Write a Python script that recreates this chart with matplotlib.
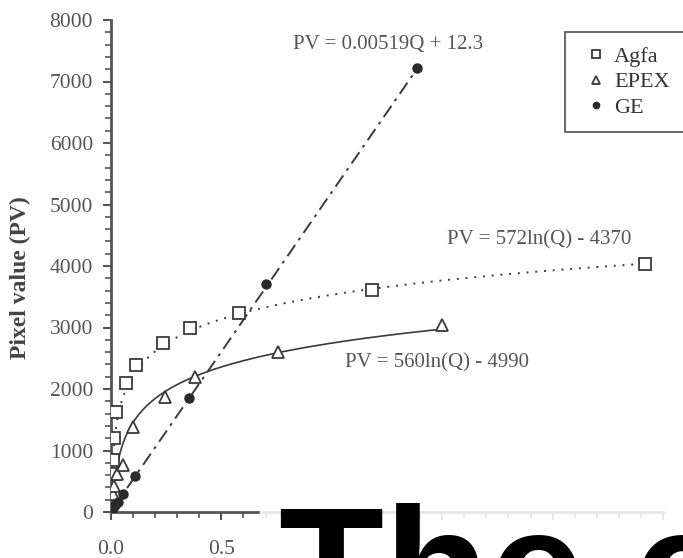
import numpy as np
import matplotlib
matplotlib.use("Agg")
import matplotlib.pyplot as plt
from matplotlib.patches import Rectangle
from matplotlib.ticker import MultipleLocator

plt.rcParams['font.family'] = ['Liberation Serif', 'DejaVu Serif']

# dose (x) and pixel value for each detector
agfa_q = [0.005, 0.008, 0.012, 0.022, 0.07, 0.115, 0.235, 0.36, 0.58, 1.18, 2.42]
agfa_pv = [620, 850, 1210, 1620, 2100, 2390, 2750, 2990, 3230, 3610, 4030]

epex_q = [0.01, 0.015, 0.025, 0.055, 0.10, 0.245, 0.38, 0.755, 1.50]
epex_pv = [300, 420, 620, 760, 1390, 1870, 2190, 2605, 3045]

ge_q = [0.002, 0.01, 0.02, 0.03, 0.055, 0.11, 0.355, 0.70, 1.385]
ge_pv = [25, 70, 120, 170, 300, 580, 1860, 3700, 7220]

# fitted curves, Q in the same units as the labels
ge_fit = "PV = 0.00519Q + 12.3"
agfa_fit = "PV = 572ln(Q) - 4370"
epex_fit = "PV = 560ln(Q) - 4990"
q_scale = 1e6

fig = plt.figure(figsize=(6.83, 5.58), dpi=100)
ax = fig.add_axes([111 / 683, 1 - 512 / 558, 552 / 683, 492 / 558])

ink = '#3a3a3a'

q = np.linspace(min(agfa_q), max(agfa_q), 400)
ax.plot(q, 572 * np.log(q * q_scale) - 4370, color=ink, lw=1.4,
        linestyle=(0, (1, 3.5)))
q = np.linspace(0.025, max(epex_q), 400)
ax.plot(q, 560 * np.log(q * q_scale) - 4990, color=ink, lw=1.2)
q = np.linspace(0, max(ge_q), 50)
ax.plot(q, 0.00519 * q * q_scale + 12.3, color=ink, lw=1.4,
        linestyle=(0, (7, 3, 1.5, 3)))

ax.plot(agfa_q, agfa_pv, 's', ms=8, mfc='white', mec=ink, mew=1.3,
        label='Agfa', zorder=3)
ax.plot(epex_q, epex_pv, '^', ms=9, mfc='white', mec=ink, mew=1.3,
        label='EPEX', zorder=3)
ax.plot(ge_q, ge_pv, 'o', ms=6.5, color='#2a2a2a', label='GE', zorder=4)

ax.set_xlim(0, 2.5)
ax.set_ylim(0, 8000)
ax.xaxis.set_major_locator(MultipleLocator(0.5))
ax.xaxis.set_minor_locator(MultipleLocator(0.1))
ax.yaxis.set_major_locator(MultipleLocator(1000))
ax.yaxis.set_minor_locator(MultipleLocator(200))
ax.xaxis.set_major_formatter(lambda v, p: f"{v:.1f}" if v < 0.6 else "")

for s in ['top', 'right']:
    ax.spines[s].set_visible(False)
for s in ['left', 'bottom']:
    ax.spines[s].set_color('#555555')
    ax.spines[s].set_linewidth(2)
ax.tick_params(which='both', direction='out', color='#555555',
               labelcolor='#555555', labelsize=15.5)
ax.tick_params(which='major', length=6, width=1.5)
ax.tick_params(axis='x', which='major', pad=14)
ax.tick_params(axis='y', which='major', pad=7)
ax.tick_params(which='minor', length=4, width=1.2)

ax.set_ylabel('Pixel value (PV)', fontsize=17, fontweight='bold',
              color='#444444')
ax.yaxis.set_label_coords(-0.145, 0.476)

ax.text(388 / 683, 1 - 45 / 558, ge_fit, transform=fig.transFigure,
        ha='center', va='center', fontsize=15, color='#555555')
ax.text(539 / 683, 1 - 240 / 558, agfa_fit, transform=fig.transFigure,
        ha='center', va='center', fontsize=15, color='#555555')
ax.text(437 / 683, 1 - 363 / 558, epex_fit, transform=fig.transFigure,
        ha='center', va='center', fontsize=15, color='#555555')

leg = fig.legend(loc='upper left', bbox_to_anchor=(565 / 683, 1 - 32 / 558),
                 frameon=True, fancybox=False, fontsize=16, markerscale=0.7,
                 handlelength=1.5, handletextpad=0.05, labelspacing=0.22,
                 borderpad=0.65, borderaxespad=0)
leg.get_frame().set_edgecolor('#333333')
leg.get_frame().set_linewidth(1.3)
for t in leg.get_texts():
    t.set_color('#333333')

# caption banner across the lower right
fig.patches.append(Rectangle((260 / 683, 0), 1, 68 / 558,
                             transform=fig.transFigure, color='white',
                             alpha=0.85, zorder=10))
fig.text(279 / 683, 1 - 503 / 558, 'The c', family='Liberation Sans',
         fontweight='bold', fontsize=124, color='black', va='top',
         ha='left', zorder=11)

fig.savefig('out.png', dpi=100)
